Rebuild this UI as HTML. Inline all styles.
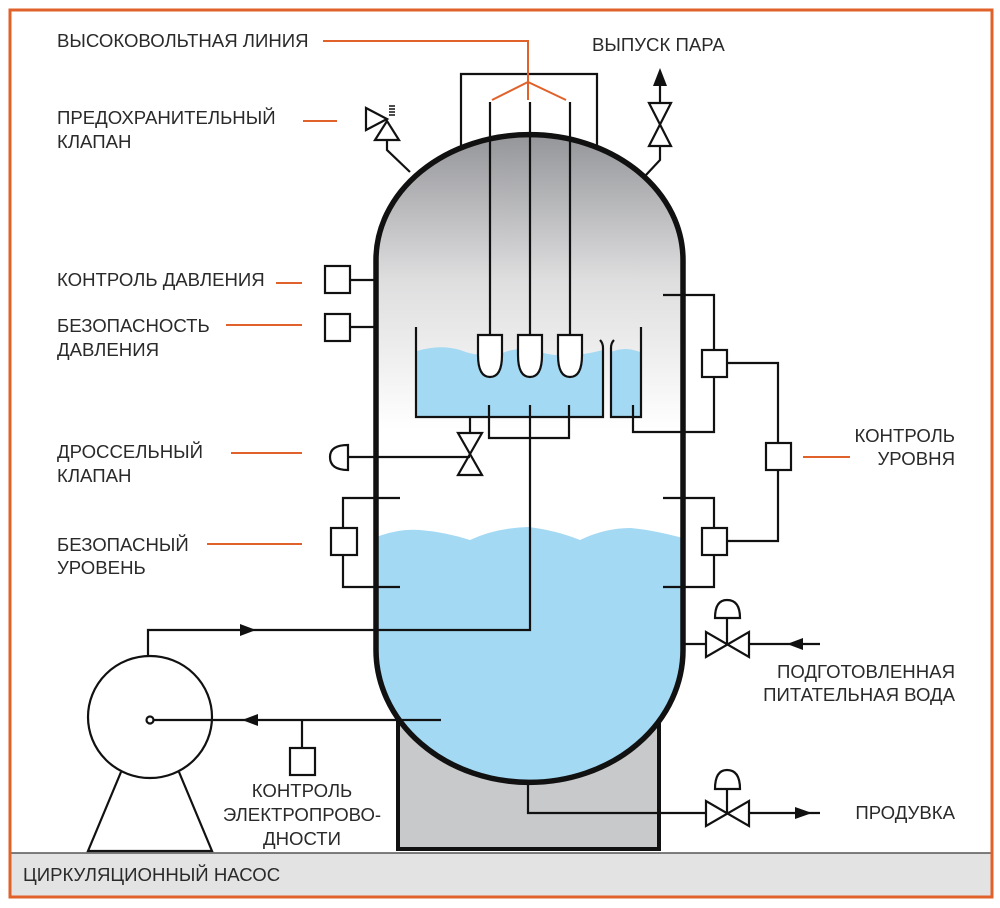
<!DOCTYPE html>
<html><head><meta charset="utf-8"><style>
html,body{margin:0;padding:0;background:#fff}
svg{display:block}
text{font-family:"Liberation Sans",sans-serif;font-size:18.6px;fill:#2a2a2a}
</style></head><body>
<svg width="1000" height="908" viewBox="0 0 1000 908" xmlns="http://www.w3.org/2000/svg">
<defs>
<linearGradient id="g" x1="0" y1="0" x2="0" y2="1">
<stop offset="0" stop-color="#929397"/><stop offset="0.5" stop-color="#dededf"/><stop offset="1" stop-color="#fff"/>
</linearGradient>
</defs>
<rect x="0" y="0" width="1000" height="908" fill="#fff"/>
<rect x="10" y="853" width="982" height="44" fill="#e3e3e4"/>
<line x1="10" y1="853" x2="992" y2="853" stroke="#555" stroke-width="1.5"/>
<rect x="10" y="10" width="982" height="887" fill="none" stroke="#e0622a" stroke-width="3"/>
<text x="23" y="881">ЦИРКУЛЯЦИОННЫЙ НАСОС</text>

<rect x="398" y="720" width="261" height="129" fill="#c8c9cb" stroke="#111" stroke-width="4"/>

<clipPath id="vc"><path d="M376,260 A153,125 0 0 1 683,260 L683,650 A153,132 0 0 1 376,650 Z"/></clipPath>
<g clip-path="url(#vc)">
<rect x="370" y="130" width="320" height="300" fill="url(#g)"/>
<rect x="370" y="430" width="320" height="100" fill="#fff"/>
<path d="M370,540 Q395,528 420,530 Q445,532 470,540 Q495,528 528,527 Q555,530 580,540 Q605,528 630,528 Q655,530 690,540 L690,800 L370,800 Z" fill="#a3d9f3"/>
</g>
<path d="M376,260 A153,125 0 0 1 683,260 L683,650 A153,132 0 0 1 376,650 Z" fill="none" stroke="#111" stroke-width="5.5"/>

<g stroke="#111" stroke-width="2.2" fill="none">
<path d="M461,148 V74 H597 V148"/>
<path d="M417,351 Q440,344 460,350 Q480,358 500,354 Q520,345 540,352 Q565,360 603,350 V417 H417 Z" fill="#a3d9f3" stroke="none"/>
<path d="M611,352 Q625,346 640,352 V417 H611 Z" fill="#a3d9f3" stroke="none"/>
<path d="M416,327 V417 H603 V348 Q603,343 600,340"/>
<path d="M614,340 Q611,343 611,348 V417 H641 V327"/>
<line x1="490" y1="102" x2="490" y2="335"/>
<line x1="530" y1="102" x2="530" y2="335"/>
<line x1="570" y1="102" x2="570" y2="335"/>
<path d="M478,335 H502 V355 Q502,377 490,377 Q478,377 478,355 Z" fill="#fff"/>
<path d="M518,335 H542 V355 Q542,377 530,377 Q518,377 518,355 Z" fill="#fff"/>
<path d="M558,335 H582 V355 Q582,377 570,377 Q558,377 558,355 Z" fill="#fff"/>
<path d="M489,405 V438 H569 V405"/>
<path d="M530,405 V630 H148 V656"/>
<path d="M470,417 V433"/>
<path d="M458,433 H482 L458,475 H482 Z"/>
<path d="M348,457 H470"/>
<path d="M348,445 V470 Q330,470 330,457 Q330,445 348,445 Z"/>
<rect x="325" y="266" width="25" height="27"/><line x1="350" y1="280" x2="376" y2="280"/>
<rect x="325" y="314" width="25" height="27"/><line x1="350" y1="327" x2="376" y2="327"/>
<path d="M400,498 H343 V587 H400"/>
<rect x="331" y="528" width="26" height="27" fill="#fff"/>
<path d="M633,405 V432 H714 V295 H663"/>
<rect x="702" y="350" width="25" height="27" fill="#fff"/>
<path d="M727,363 H778 V541 H727"/>
<rect x="766" y="443" width="25" height="27" fill="#fff"/>
<path d="M663,498 H714 V587 H663"/>
<rect x="702" y="528" width="25" height="27" fill="#fff"/>
<path d="M410,172 L387,150 V140"/>
<path d="M375,140 H399 L387,121 Z"/>
<path d="M366,108 V130 L387,119 Z"/>
<path d="M389,106 H395 M389,109 H395 M389,112 H395 M389,115 H395" stroke-width="1.5"/>
<path d="M646,175 L660,160 V84"/>
<path d="M649,103 H671 L649,146 H671 Z" fill="#fff"/>
<ellipse cx="150" cy="717" rx="62" ry="61"/>
<path d="M121,772 L88,851 H212 L179,772"/>
<path d="M153,720 H441"/>
<circle cx="150" cy="720" r="3.5" fill="#fff"/>
<path d="M302,720 V748"/>
<rect x="290" y="748" width="25" height="27"/>
<path d="M683,644 H820"/>
<path d="M706,632 V657 L749,632 V657 Z" fill="#fff"/>
<path d="M727,644 V618"/>
<path d="M715,618 H740 Q740,600 727,600 Q715,600 715,618 Z"/>
<path d="M528,782 V813 H820"/>
<path d="M706,801 V826 L749,801 V826 Z" fill="#fff"/>
<path d="M727,813 V789"/>
<path d="M715,789 H740 Q740,770 727,770 Q715,770 715,789 Z"/>
</g>
<g fill="#111">
<path d="M240,624 L256,630 L240,636 Z"/>
<path d="M258,714 L242,720 L258,726 Z"/>
<path d="M803,638 L787,644 L803,650 Z"/>
<path d="M795,807 L812,813 L795,819 Z"/>
<path d="M653,86 L660,68 L667,86 Z"/>
</g>

<g stroke="#e0622a" stroke-width="2" fill="none">
<path d="M323,41 H528 V100"/>
<path d="M492,100 L528,82 L566,100"/>
<line x1="303" y1="121" x2="337" y2="121"/>
<line x1="276" y1="283" x2="302" y2="283"/>
<line x1="226" y1="325" x2="302" y2="325"/>
<line x1="231" y1="453" x2="302" y2="453"/>
<line x1="207" y1="544" x2="302" y2="544"/>
<line x1="803" y1="457" x2="850" y2="457"/>
</g>

<text x="57" y="47">ВЫСОКОВОЛЬТНАЯ ЛИНИЯ</text>
<text x="592" y="51">ВЫПУСК ПАРА</text>
<text x="57" y="124">ПРЕДОХРАНИТЕЛЬНЫЙ</text>
<text x="57" y="148">КЛАПАН</text>
<text x="57" y="286">КОНТРОЛЬ ДАВЛЕНИЯ</text>
<text x="57" y="332">БЕЗОПАСНОСТЬ</text>
<text x="57" y="356">ДАВЛЕНИЯ</text>
<text x="57" y="458">ДРОССЕЛЬНЫЙ</text>
<text x="57" y="482">КЛАПАН</text>
<text x="57" y="551">БЕЗОПАСНЫЙ</text>
<text x="57" y="574">УРОВЕНЬ</text>
<text x="955" y="442" text-anchor="end">КОНТРОЛЬ</text>
<text x="955" y="465" text-anchor="end">УРОВНЯ</text>
<text x="955" y="678" text-anchor="end">ПОДГОТОВЛЕННАЯ</text>
<text x="955" y="701" text-anchor="end">ПИТАТЕЛЬНАЯ ВОДА</text>
<text x="955" y="819" text-anchor="end">ПРОДУВКА</text>
<text x="302" y="797" text-anchor="middle">КОНТРОЛЬ</text>
<text x="302" y="821" text-anchor="middle">ЭЛЕКТРОПРОВО-</text>
<text x="302" y="845" text-anchor="middle">ДНОСТИ</text>
</svg>
</body></html>
